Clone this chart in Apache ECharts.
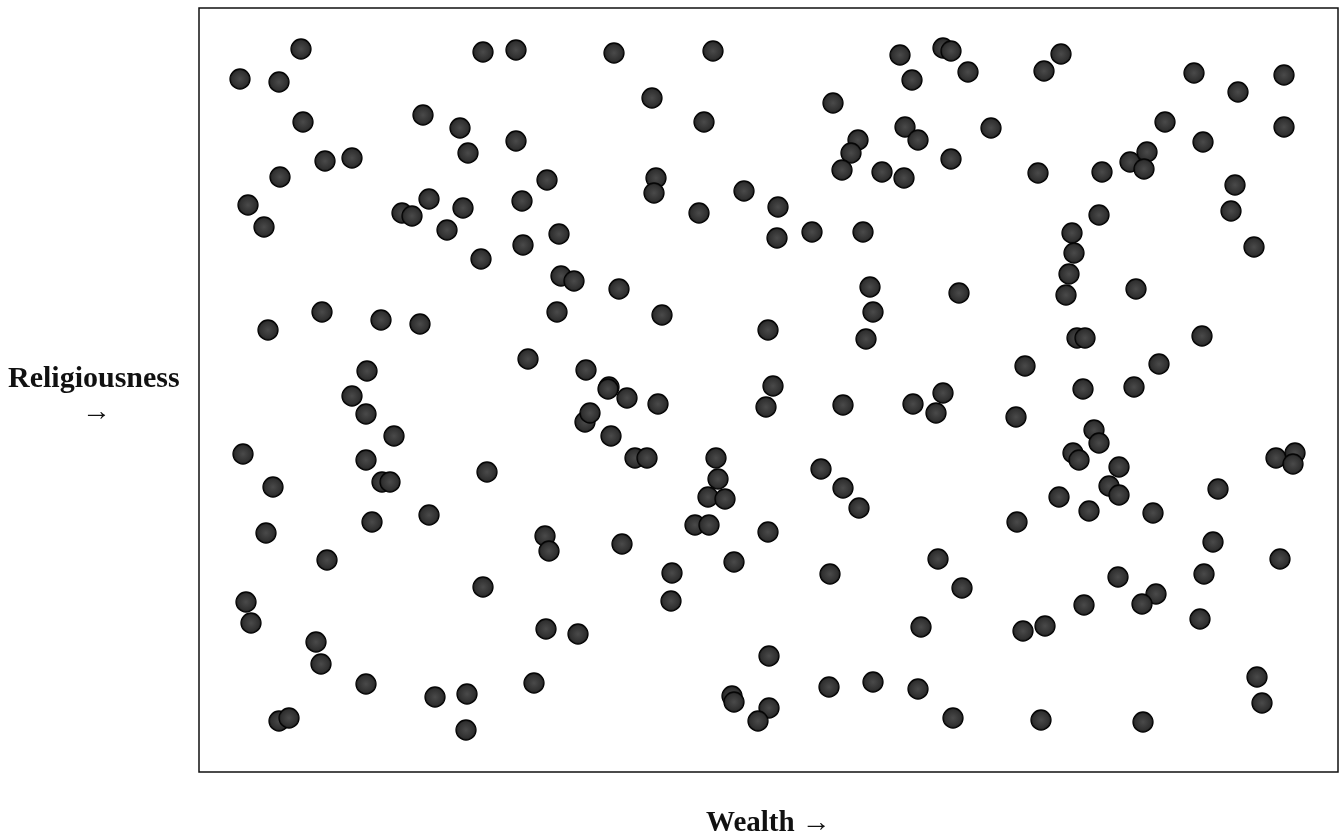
<!DOCTYPE html>
<html>
<head>
<meta charset="utf-8">
<script src="https://cdn.jsdelivr.net/npm/echarts@6/dist/echarts.min.js"></script>
<style>html,body{margin:0;padding:0;background:#fff}#c{width:1341px;height:840px}</style>
</head>
<body>
<div id="c"></div>
<script>
// Wealth (horizontal position) and Religiousness (vertical position, read top-down) of each dot
var wealth = [
301,483,516,240,279,423,303,460,516,468,325,352,280,547,248,264,402,412,429,463,522,447,481,523,559,561,574,322,268,381,420,557,528,367,586,
614,713,900,943,951,968,912,652,833,704,905,918,858,851,842,882,904,951,656,654,744,778,699,777,812,863,619,662,870,873,866,959,768,609,773,943,
1044,1061,1194,1238,1284,991,1165,1203,1284,1038,1102,1130,1147,1144,1235,1231,1099,1254,1072,1074,1069,1066,1136,1077,1085,1202,1025,1159,1083,1134,
352,366,394,243,366,382,390,273,487,429,372,266,327,545,549,585,590,483,246,251,546,578,316,321,366,534,435,467,279,289,466,
608,627,658,611,635,647,766,843,913,936,716,718,708,725,695,709,821,843,859,768,622,734,672,671,830,938,962,921,769,732,734,769,758,829,873,918,953,
1016,1094,1099,1073,1079,1119,1109,1119,1059,1089,1153,1017,1218,1213,1204,1280,1276,1295,1293,1118,1156,1142,1084,1023,1045,1200,1257,1262,1041,1143
];
var religiousness = [
49,52,50,79,82,115,122,128,141,153,161,158,177,180,205,227,213,216,199,208,201,230,259,245,234,276,281,312,330,320,324,312,359,371,370,
53,51,55,48,51,72,80,98,103,122,127,140,140,153,170,172,178,159,178,193,191,207,213,238,232,232,289,315,287,312,339,293,330,387,386,393,
71,54,73,92,75,128,122,142,127,173,172,162,152,169,185,211,215,247,233,253,274,295,289,338,338,336,366,364,389,387,
396,414,436,454,460,482,482,487,472,515,522,533,560,536,551,422,413,587,602,623,629,634,642,664,684,683,697,694,721,718,730,
389,398,404,436,458,458,407,405,404,413,458,479,497,499,525,525,469,488,508,532,544,562,573,601,574,559,588,627,656,696,702,708,721,687,682,689,718,
417,430,443,453,460,467,486,495,497,511,513,522,489,542,574,559,458,453,464,577,594,604,605,631,626,619,677,703,720,722
];
var axisTitles = { y: 'Religiousness', yArrow: '\u2192', x: 'Wealth \u2192' };

var points = wealth.map(function (w, i) { return [w, religiousness[i]]; });

var chart = echarts.init(document.getElementById('c'), null, { renderer: 'canvas' });
chart.setOption({
  animation: false,
  backgroundColor: '#fff',
  grid: { left: 199, top: 8, width: 1139, height: 764, show: true, borderColor: '#111', borderWidth: 1.5, backgroundColor: 'transparent' },
  xAxis: { type: 'value', min: 199, max: 1338, axisLine: { show: false }, axisTick: { show: false }, axisLabel: { show: false }, splitLine: { show: false } },
  yAxis: { type: 'value', min: 8, max: 772, inverse: true, axisLine: { show: false }, axisTick: { show: false }, axisLabel: { show: false }, splitLine: { show: false } },
  series: [{
    type: 'scatter',
    data: points,
    symbol: 'circle',
    symbolSize: 20,
    itemStyle: {
      color: { type: 'radial', x: 0.5, y: 0.5, r: 0.5, colorStops: [{ offset: 0, color: '#4a4a4a' }, { offset: 0.75, color: '#303030' }, { offset: 1, color: '#0e0e0e' }] },
      borderColor: '#050505',
      borderWidth: 1.3,
      opacity: 1
    }
  }],
  graphic: [
    { type: 'text', left: 8, top: 364, style: { text: axisTitles.y, font: 'bold 30px "Liberation Serif", "Times New Roman", serif', fill: '#111' } },
    { type: 'text', left: 82, top: 398, style: { text: axisTitles.yArrow, font: 'bold 29px "Liberation Serif", "Times New Roman", serif', fill: '#111' } },
    { type: 'text', left: 706, top: 809, style: { text: axisTitles.x, font: 'bold 29px "Liberation Serif", "Times New Roman", serif', fill: '#111' } }
  ]
});
</script>
</body>
</html>
